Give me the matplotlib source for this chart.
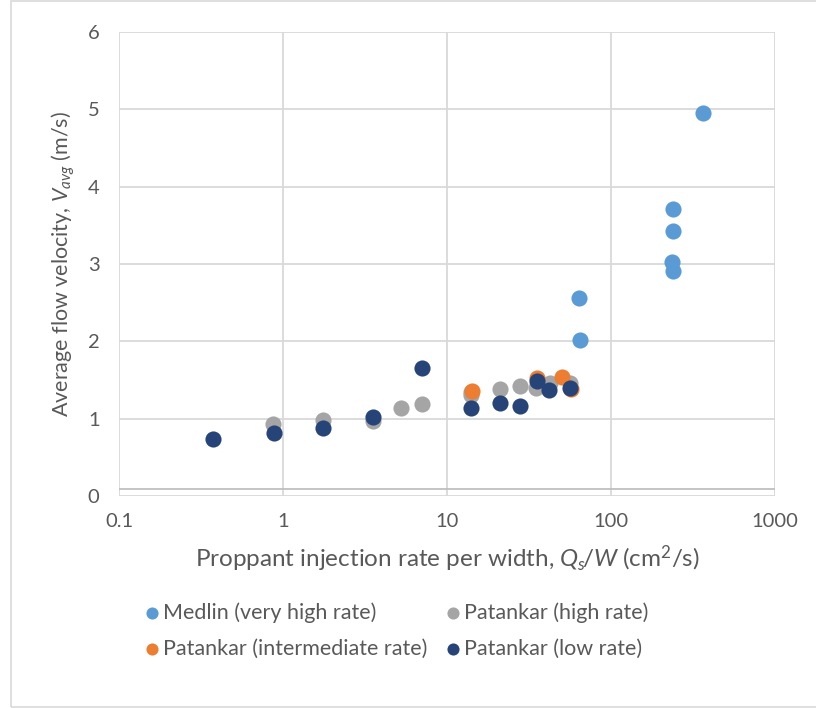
import matplotlib.pyplot as plt
from matplotlib.patches import Rectangle

plt.rcParams['font.family'] = ['Lato', 'DejaVu Sans']
plt.rcParams['mathtext.fontset'] = 'custom'
plt.rcParams['mathtext.rm'] = 'Lato'
plt.rcParams['mathtext.it'] = 'Lato:italic'

# Medlin (very high rate)
medlin_x = [365, 239, 240, 235, 240, 63.8, 64.3]
medlin_y = [4.95, 3.71, 3.43, 3.03, 2.91, 2.56, 2.02]

# Patankar (high rate)
high_x = [0.87, 1.75, 3.54, 5.24, 7.04, 14.0, 14.0, 21.0, 27.9, 34.9, 42.5, 56]
high_y = [0.93, 0.98, 0.97, 1.14, 1.19, 1.31, 1.35, 1.38, 1.42, 1.40, 1.46, 1.46]

# Patankar (intermediate rate)
mid_x = [14.2, 35.4, 50.3, 57.4]
mid_y = [1.36, 1.53, 1.54, 1.38]

# Patankar (low rate)
low_x = [0.374, 0.88, 1.75, 3.54, 7.04, 14.0, 21.0, 27.9, 35.4, 41.8, 56]
low_y = [0.74, 0.81, 0.88, 1.02, 1.66, 1.14, 1.20, 1.16, 1.49, 1.37, 1.40]

labels = ["Medlin (very high rate)", "Patankar (high rate)",
          "Patankar (intermediate rate)", "Patankar (low rate)"]
colors = ["#5B9BD5", "#A5A5A5", "#ED7D31", "#264478"]

txt = "#595959"

fig = plt.figure(figsize=(8.16, 7.08), dpi=100)
ax = fig.add_axes([119/816, 1 - 496/708, (775 - 119)/816, (496 - 32)/708])

# chart area border
fig.patches.append(Rectangle((11/816, 1/708), 1.2, 706/708, transform=fig.transFigure,
                             fill=False, edgecolor="#D9D9D9", linewidth=1.2))

series = [(medlin_x, medlin_y), (high_x, high_y), (mid_x, mid_y), (low_x, low_y)]
handles = []
for (xs, ys), lab, c in zip(series, labels, colors):
    h = ax.scatter(xs, ys, s=135, color=c, label=lab, zorder=3, linewidths=0)
    handles.append(h)

ax.set_xscale("log")
ax.set_xlim(0.1, 1000)
ax.set_ylim(0, 6)
ax.set_xticks([0.1, 1, 10, 100, 1000])
ax.set_xticklabels(["0.1", "1", "10", "100", "1000"])
ax.set_yticks(range(0, 7))
ax.minorticks_off()
ax.grid(True, color="#D9D9D9", linewidth=1.3, zorder=0)
ax.set_axisbelow(True)
for s in ax.spines.values():
    s.set_visible(False)
ax.axhline(0.085, color="#BFBFBF", linewidth=1.3, zorder=1)
ax.tick_params(length=0, labelsize=14.5, colors=txt, pad=12)
ax.tick_params(axis="y", pad=14)

ax.set_xlabel(r"Proppant injection rate per width, $Q_s\!/W$ (cm$^2$/s)",
              fontsize=17.5, color=txt, labelpad=10)
ax.set_ylabel(r"Average flow velocity, $V_{avg}$ (m/s)",
              fontsize=15.5, color=txt, labelpad=8)

order = [0, 2, 1, 3]
fig.legend([handles[i] for i in order], [labels[i] for i in order], ncol=2,
           loc="upper left", bbox_to_anchor=(122/816, 1 - 583/708), frameon=False,
           fontsize=15.5, labelcolor=txt, markerscale=0.75, handletextpad=0.0,
           columnspacing=0.7, labelspacing=0.75, handlelength=1.0)

fig.savefig("out.png", dpi=100, facecolor="white")
